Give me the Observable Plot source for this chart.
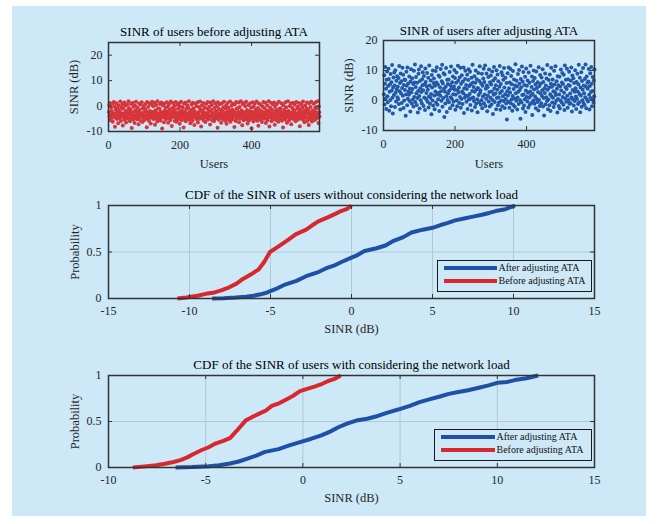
<!DOCTYPE html>
<html><head><meta charset="utf-8">
<script src="https://cdn.jsdelivr.net/npm/d3@7"></script>
<script src="https://cdn.jsdelivr.net/npm/@observablehq/plot@0.6"></script>
<style>
body{margin:0;background:#fff;}
#page{position:relative;width:658px;height:524px;overflow:hidden;font-family:"Liberation Serif","Times New Roman",serif;}
#bg{position:absolute;left:12px;top:6px;width:634px;height:510px;background:#cde8f7;}
.panel{position:absolute;left:0;}
.legend{position:absolute;box-sizing:border-box;border:1.5px solid #1a1a1a;background:#cde8f7;}
.legend .sw{position:absolute;height:4px;}
.legend .lt{position:absolute;font-size:10px;line-height:12px;color:#111;white-space:nowrap;}
</style></head>
<body><div id="page"><div id="bg"></div></div>
<script>
// ---------- data ----------
const users = d3.range(1, 591);
const sinrBefore = [
-2.3,0.4,-4.1,1.2,-5.6,-3.3,-0.7,-4.8,-1.9,-3.7,
0.9,-6.2,-2.8,-4.4,1.6,-3.1,-0.2,-8.1,-4.6,-1.4,
-3.9,1.1,-2.5,-5.1,-0.9,-4.2,-6.8,0.3,-3.4,-1.7,
-4.7,-2.2,1.8,-3.6,-5.9,-0.5,-4.0,-2.9,0.7,-7.6,
-1.1,-4.5,-3.0,1.4,-5.3,-2.6,0.1,-3.8,-6.5,-1.8,
-4.3,0.6,-2.4,-5.0,-3.5,1.9,-0.8,-4.9,-2.0,-6.0,
-3.2,-1.3,0.8,-4.6,-8.6,-2.7,-3.9,1.3,-5.4,-0.3,
-4.1,-2.1,-6.7,0.2,-3.6,-1.6,1.7,-4.8,-3.0,-5.2,
-0.6,-3.4,-2.3,-7.1,-4.4,1.0,-1.5,-3.8,-5.7,0.5,
-2.8,-4.0,1.5,-3.3,-6.3,-1.0,-4.7,-2.5,0.0,-3.9,
-5.5,-1.2,-3.7,0.9,-4.2,-2.0,-8.3,1.6,-3.1,-4.9,
-0.4,-2.7,-5.8,-3.5,1.1,-1.9,-4.4,-6.9,0.6,-3.0,
-4.6,1.7,-2.3,-3.8,-0.1,-5.1,-2.9,-4.0,1.3,-7.3,
-1.6,-3.4,0.4,-4.8,-2.5,-6.1,1.9,-3.6,-0.9,-5.0,
-3.1,-4.3,-1.1,0.8,-5.7,-2.2,-3.9,1.4,-4.5,-8.8,
-2.6,0.2,-4.1,-3.3,-6.4,1.0,-1.7,-4.7,-2.8,-0.6,
-5.2,-3.6,1.5,-2.1,-4.0,-0.3,-6.6,-3.0,0.7,-4.9,
-1.4,-3.8,-5.5,1.8,-2.4,-4.4,-7.8,-0.8,-3.2,1.2,
-4.2,-2.0,-3.5,0.0,-5.9,-1.5,-4.6,1.6,-2.9,-6.2,
-3.7,0.5,-4.8,-2.6,-1.0,-5.3,1.1,-3.4,-7.0,-0.2,
-2.1,-4.3,1.7,-3.0,-5.6,-1.8,-0.5,-4.1,-2.7,-8.4,
0.9,-3.6,-4.9,-2.3,1.4,-6.0,-1.2,-3.9,-5.1,0.3,
-2.9,-4.5,-0.7,-3.2,1.9,-5.4,-2.2,-4.0,-6.8,-1.6,
-3.5,0.6,-4.7,-2.5,-5.8,1.3,-0.9,-3.1,-4.3,-7.4,
-1.9,-3.7,1.0,-4.6,-2.8,-0.1,-5.2,-3.3,1.5,-6.5,
-4.0,-2.4,-0.4,-3.8,-5.0,1.8,-1.3,-4.4,-8.0,-2.0,
0.2,-3.4,-4.8,-1.7,1.2,-5.7,-2.6,-3.9,-0.6,-4.2,
-6.3,-2.9,0.8,-4.5,-3.2,-1.1,1.6,-5.3,-2.3,-3.6,
-4.9,-0.3,-2.0,-7.2,1.4,-3.8,-4.1,-1.5,0.4,-5.6,
-3.0,-2.7,1.9,-4.4,-6.0,-0.8,-3.5,-5.0,1.0,-1.9,
-4.6,-3.1,-0.2,-2.4,-8.5,1.5,-3.7,-5.4,-1.2,-4.0,
0.7,-2.8,-4.3,-3.3,-6.6,-1.6,1.1,-5.1,-2.1,-3.9,
-0.5,-4.7,1.7,-2.6,-3.4,-5.8,-1.0,-4.2,0.3,-7.0,
-3.6,-2.2,-4.9,1.3,-0.7,-5.5,-3.0,-1.8,-4.4,1.8,
-6.2,-2.5,-3.8,0.1,-4.6,-1.4,-5.2,1.0,-3.2,-2.0,
-4.1,-8.2,0.6,-3.5,-2.7,-5.9,1.6,-1.1,-4.8,-3.3,
-0.9,-4.3,-2.3,1.4,-6.4,-3.7,-0.4,-5.0,-2.9,1.9,
-4.5,-1.7,-3.1,-7.5,0.8,-2.1,-4.0,-5.6,1.2,-3.6,
-2.6,-0.1,-4.7,-3.9,1.7,-5.3,-1.5,-2.4,-6.9,-4.2,
0.4,-3.0,-5.7,-1.9,-4.4,1.1,-2.8,-3.5,-0.6,-8.7,
-4.9,-2.2,1.5,-3.8,-6.1,-0.3,-4.1,-2.5,0.9,-5.1,
-3.3,-1.3,-4.6,1.8,-2.0,-5.8,-3.6,-0.8,-7.7,-4.3,
1.0,-2.7,-3.9,-5.4,-1.6,0.5,-4.8,-3.1,-6.3,-2.3,
-0.2,-4.0,1.6,-3.4,-5.0,-2.6,-1.0,-4.5,1.3,-6.7,
-3.7,-2.1,-4.9,0.2,-5.6,-1.8,-3.0,1.9,-4.2,-8.0,
-2.4,-0.7,-4.4,-3.2,1.2,-6.0,-1.4,-5.2,-2.9,0.6,
-4.7,-3.5,1.4,-2.2,-7.3,-0.4,-3.8,-5.5,-1.7,-4.0,
0.8,-2.5,-4.6,-3.3,-6.2,1.7,-1.2,-3.9,-5.0,-2.0,
-0.9,-4.3,-3.0,1.1,-5.8,-2.7,-4.1,-8.4,0.3,-3.6,
-1.5,-4.8,-2.3,-5.3,1.5,-3.4,-0.5,-4.4,-6.6,-2.1,
-3.1,1.9,-4.2,-1.9,-5.7,-2.8,0.0,-3.7,-4.9,1.0,
-7.1,-2.6,-3.3,-0.8,-4.5,1.3,-5.1,-1.6,-3.9,-2.2,
0.5,-4.7,-6.0,-2.9,1.6,-3.5,-1.1,-4.3,-5.4,-0.3,
-3.8,-2.4,1.2,-4.6,-7.9,-1.4,-3.1,-5.0,0.7,-2.7,
-4.1,-0.6,-3.6,1.8,-5.5,-2.0,-4.8,-6.4,-1.8,0.2,
-3.2,-4.4,-2.5,-0.9,1.4,-5.9,-3.0,-1.3,-4.7,-7.4,
1.1,-2.3,-3.7,-5.2,-0.4,-4.0,1.7,-2.8,-6.1,-3.4,
-1.7,-4.9,-3.1,0.9,-5.6,-2.1,-4.2,-0.7,1.5,-3.9,
-5.0,-2.6,-1.0,-4.5,1.9,-3.3,-6.7,-0.2,-2.4,-4.1];
const sinrAfter = [
2.1,8.4,-1.3,5.6,11.2,0.7,3.9,-2.8,6.9,9.7,
1.4,-0.6,4.8,10.6,7.2,-3.4,2.9,5.3,0.2,8.8,
-1.9,6.1,3.3,11.8,0.9,-4.3,4.4,7.7,1.8,9.3,
5.0,-2.2,10.1,2.6,-0.3,6.6,3.7,8.1,1.1,4.6,
0.4,7.5,-1.2,11.5,3.1,5.8,-3.0,9.0,2.3,6.4,
-0.8,4.2,10.9,1.6,8.6,-2.5,5.2,0.0,7.0,3.5,
6.8,-5.1,2.0,9.6,4.9,-1.6,11.0,0.6,5.7,3.0,
1.9,8.0,-0.2,4.0,-3.7,6.3,10.4,2.7,-1.0,7.4,
3.8,0.3,5.5,-2.0,9.9,1.2,6.0,12.0,-0.5,4.5,
7.8,2.4,-1.5,5.9,0.8,-4.0,3.2,8.9,10.3,1.5,
-2.7,6.5,4.1,0.1,11.4,2.8,-0.9,7.1,5.1,9.4,
3.4,-1.8,8.2,1.0,5.4,-3.2,10.7,6.2,0.5,2.5,
4.7,9.2,-0.4,3.6,7.6,-2.3,1.3,11.7,5.0,-1.1,
0.9,6.7,2.2,-4.6,8.5,4.3,0.0,10.0,-1.7,5.8,
7.3,1.7,-2.9,4.9,3.0,9.8,-0.7,6.0,11.1,2.0,
-1.4,5.3,0.4,8.3,2.6,-3.5,7.9,4.4,1.6,10.5,
3.1,-0.1,6.4,11.9,-2.1,5.7,0.8,9.1,3.9,-5.5,
8.7,2.9,-1.0,4.6,10.8,1.4,-3.8,6.9,0.2,5.5,
2.4,7.0,-0.6,3.3,9.5,-2.6,5.1,1.1,11.3,4.0,
0.6,6.1,-1.6,8.0,2.1,-0.3,4.7,10.2,3.6,7.5,
-3.1,1.9,5.9,9.3,0.0,-1.9,3.5,11.6,6.6,2.7,
4.3,-0.8,7.7,1.2,10.9,-2.4,5.6,0.5,8.4,3.0,
-1.2,6.3,2.4,11.0,-4.2,4.1,0.9,7.2,9.9,1.7,
5.2,-0.4,3.8,8.6,-2.8,1.5,6.8,10.4,0.3,4.8,
2.2,9.6,-1.5,5.4,0.7,7.6,-3.3,3.2,11.9,6.0,
1.0,4.5,-0.2,8.1,2.9,-2.2,5.9,10.0,-1.1,3.7,
7.1,0.4,-3.9,4.2,9.2,1.8,-0.6,6.5,11.4,2.6,
3.4,-1.4,5.7,0.1,8.9,-2.6,4.9,1.3,7.3,10.6,
-0.9,6.2,2.0,11.7,-1.8,3.9,0.6,9.0,5.0,-3.6,
4.4,1.6,7.8,-0.3,10.3,2.8,-2.0,6.1,0.9,8.3,
5.3,-1.3,3.0,9.7,0.2,-4.5,6.7,1.9,11.2,4.0,
-0.5,7.4,2.3,5.1,-2.9,10.1,0.8,3.6,8.7,-1.6,
6.4,1.1,-0.7,4.6,11.5,2.5,-3.1,5.5,0.0,9.4,
3.2,-1.9,8.4,1.4,6.9,-0.2,10.8,4.3,-2.5,2.1,
7.6,0.5,-1.0,5.8,-6.3,3.1,9.1,1.7,-0.4,11.0,
4.1,-2.4,6.0,2.7,10.5,-0.9,8.2,0.3,5.4,-3.4,
1.5,9.8,-1.5,3.8,7.0,0.7,-2.1,5.0,12.1,2.4,
-0.1,6.6,4.7,-3.0,1.0,8.8,2.9,-1.2,10.2,5.6,
3.5,0.1,-6.1,7.2,4.4,-0.6,11.3,1.8,6.3,-2.7,
9.5,2.0,-1.7,5.2,0.4,7.9,-3.8,3.3,10.7,1.2,
4.9,-0.3,6.7,2.6,-2.3,9.3,0.9,5.9,-1.4,3.0,
11.6,1.6,-0.8,4.5,8.0,-4.8,2.2,6.5,0.0,10.0,
3.7,-1.1,7.5,1.3,5.3,-2.6,9.7,0.6,4.2,-0.5,
6.1,2.8,-3.3,11.1,0.2,4.8,-1.8,8.5,2.3,5.7,
-0.9,7.7,1.5,3.4,10.4,-2.0,6.2,0.8,-5.0,4.0,
2.5,9.0,-1.3,5.0,1.1,7.3,-0.2,11.8,3.6,-2.9,
0.3,6.8,4.3,-1.6,8.7,2.1,-3.5,5.6,10.9,1.4,
4.6,-0.7,7.0,0.9,3.1,-2.2,9.9,5.3,-1.0,2.7,
11.4,1.8,-0.1,6.4,3.9,-4.0,8.1,0.5,5.1,-1.8,
2.0,7.9,-2.7,4.7,0.0,10.3,3.3,-0.6,6.0,9.2,
1.2,5.5,-1.4,8.6,2.6,-3.2,11.7,0.7,4.4,6.9,
-0.4,3.8,10.6,1.6,-2.4,7.1,5.2,0.2,9.6,-1.1,
4.9,2.3,-0.9,6.6,11.0,1.0,-3.7,8.3,3.5,0.4,
7.4,-1.7,5.8,2.9,-0.2,10.1,4.1,1.3,-2.8,6.2,
0.6,8.9,3.0,-1.2,5.4,11.9,-0.6,2.2,7.6,-3.9,
4.3,1.7,9.4,-2.1,6.5,0.1,3.6,10.8,-0.8,5.0,
2.4,-1.5,7.2,1.1,12.0,4.6,-2.6,8.0,0.3,5.9,
3.9,-0.3,6.3,10.5,1.9,-3.0,4.8,9.1,0.8,2.8,
11.2,5.6,-1.9,3.2,7.8,0.5,-0.7,6.7,1.4,10.3];

// CDF without considering the network load
const cdf1BeforeX = [-10.75,-10.2,-9.5,-9.0,-8.45,-8.0,-7.55,-7.1,-6.7,-6.2,-5.75,-5.4,-5.03,-4.5,-4.0,-3.45,-2.8,-2.4,-2.05,-1.5,-1.0,-0.65,-0.3,0.0];
const cdf1BeforeP = [0,0.01,0.03,0.05,0.065,0.09,0.12,0.16,0.21,0.26,0.31,0.39,0.5,0.56,0.62,0.69,0.74,0.79,0.83,0.87,0.91,0.94,0.96,1.0];
const cdf1AfterX = [-8.6,-7.9,-7.15,-6.5,-6.05,-5.6,-5.2,-4.7,-4.1,-3.4,-2.8,-2.1,-1.5,-1.0,-0.65,0.0,0.4,0.8,1.55,2.1,2.6,3.2,3.7,4.4,5.0,5.5,5.9,6.4,6.95,7.5,8.05,8.5,8.9,9.5,10.1];
const cdf1AfterP = [0,0.003,0.01,0.02,0.03,0.045,0.065,0.1,0.15,0.19,0.24,0.28,0.33,0.36,0.39,0.44,0.47,0.51,0.54,0.57,0.62,0.66,0.71,0.74,0.76,0.79,0.81,0.84,0.86,0.88,0.9,0.92,0.94,0.96,1.0];
// CDF with considering the network load
const cdf2BeforeX = [-8.75,-8.0,-7.55,-7.1,-6.65,-6.3,-5.95,-5.6,-5.2,-4.85,-4.5,-4.1,-3.75,-3.4,-2.95,-2.6,-2.3,-1.9,-1.6,-1.2,-0.85,-0.5,-0.15,0.3,0.6,1.0,1.3,1.6,1.95];
const cdf2BeforeP = [0,0.015,0.025,0.04,0.06,0.08,0.11,0.15,0.19,0.22,0.26,0.29,0.32,0.4,0.51,0.55,0.58,0.62,0.67,0.7,0.74,0.78,0.83,0.86,0.88,0.91,0.94,0.96,1.0];
const cdf2AfterX = [-6.55,-5.7,-4.85,-4.3,-3.75,-3.3,-2.85,-2.4,-1.95,-1.25,-0.7,-0.15,0.4,0.95,1.4,1.85,2.3,2.75,3.3,3.85,4.4,4.9,5.5,6.0,6.5,7.1,7.5,8.0,8.5,9.1,9.5,10.0,10.5,10.9,11.5,12.1];
const cdf2AfterP = [0,0.005,0.014,0.025,0.043,0.065,0.096,0.13,0.17,0.2,0.24,0.275,0.31,0.35,0.39,0.44,0.48,0.51,0.53,0.56,0.6,0.63,0.67,0.71,0.74,0.775,0.8,0.82,0.84,0.87,0.89,0.92,0.93,0.95,0.97,1.0];

const usersTicks = [0,200,400];
const sinrTicksBefore = [-10,0,10,20];
const sinrTicksAfter = [-10,0,10,20];
const cdf1Ticks = [-15,-10,-5,0,5,10,15];
const cdf2Ticks = [-10,-5,0,5,10,15];
const probTicks = [0,0.5,1];

const seriesNames = ["After adjusting ATA","Before adjusting ATA"];
const seriesColors = ["#1f50a6","#d8282e"];

// ---------- drawing ----------
const FONT = '"Liberation Serif","Times New Roman",serif';
const FRAME = "#333333";
const GRID = "#b0c8d6";
const TXT = "#262626";
const W = 658;
const page = document.getElementById("page");

function panel(cfg){
  const {top, height, fl, fr, ft, fb, xdomain, ydomain, xticks, yticks, title, xlabel, ylabel, grid, marks, xPad, yPad} = cfg;
  const fw = fr - fl, fh = fb - ft;
  const all = [];
  if (grid) {
    all.push(Plot.ruleX(xticks, {x: d => d, stroke: GRID, strokeWidth: 1}));
    all.push(Plot.ruleY(yticks, {y: d => d, stroke: GRID, strokeWidth: 1}));
  }
  all.push(...marks);
  all.push(Plot.tickX(xticks, {x: d => d, insetTop: fh - 4, stroke: FRAME}));
  all.push(Plot.tickX(xticks, {x: d => d, insetBottom: fh - 4, stroke: FRAME}));
  all.push(Plot.tickY(yticks, {y: d => d, insetRight: fw - 4, stroke: FRAME}));
  all.push(Plot.tickY(yticks, {y: d => d, insetLeft: fw - 4, stroke: FRAME}));
  all.push(Plot.frame({stroke: FRAME, strokeWidth: 1.5}));
  all.push(Plot.axisX(xticks, {anchor: "bottom", tickSize: 0, tickPadding: xPad, tickFormat: d => String(d), fill: TXT, fontSize: 12, label: null}));
  all.push(Plot.axisY(yticks, {anchor: "left", tickSize: 0, tickPadding: yPad, tickFormat: d => String(d), fill: TXT, fontSize: 12, label: null}));
  all.push(Plot.text([title], {frameAnchor: "top", lineAnchor: "middle", textAnchor: "middle", dy: cfg.tDy, text: d => d, fontSize: 13, fill: "#000"}));
  all.push(Plot.text([xlabel], {frameAnchor: "bottom", lineAnchor: "middle", textAnchor: "middle", dy: cfg.xlDy, text: d => d, fontSize: 12.5, fill: TXT}));
  all.push(Plot.text([ylabel], {frameAnchor: "left", lineAnchor: "middle", textAnchor: "middle", dx: cfg.ylDx, rotate: -90, text: d => d, fontSize: 12.5, fill: TXT}));
  const svg = Plot.plot({
    width: W, height,
    marginLeft: fl, marginRight: W - fr, marginTop: ft - top, marginBottom: top + height - fb,
    x: {domain: xdomain, axis: null},
    y: {domain: ydomain, axis: null},
    style: {fontFamily: FONT, fontSize: "12px", background: "transparent", overflow: "visible", color: TXT},
    marks: all
  });
  svg.classList.add("panel");
  svg.style.top = top + "px";
  page.appendChild(svg);
}

const beforeData = users.map((u, i) => ({u, v: sinrBefore[i]}));
const afterData = users.map((u, i) => ({u, v: sinrAfter[i]}));

panel({top: 0, height: 180, fl: 108, fr: 319, ft: 42, fb: 131,
  xdomain: [0, 590], ydomain: [-10, 25], xticks: usersTicks, yticks: sinrTicksBefore,
  title: "SINR of users before adjusting ATA", xlabel: "Users", ylabel: "SINR (dB)",
  xPad: 9, yPad: 6, tDy: -11, xlDy: 32, ylDx: -35,
  marks: [Plot.dot(beforeData, {x: "u", y: "v", r: 2.0, fill: "#d7353b", stroke: null})]});

panel({top: 0, height: 180, fl: 383, fr: 594, ft: 40, fb: 130,
  xdomain: [0, 590], ydomain: [-10, 20], xticks: usersTicks, yticks: sinrTicksAfter,
  title: "SINR of users after adjusting ATA", xlabel: "Users", ylabel: "SINR (dB)",
  xPad: 9, yPad: 6, tDy: -10, xlDy: 33, ylDx: -35,
  marks: [Plot.dot(afterData, {x: "u", y: "v", r: 2.0, fill: "#2158a8", stroke: null})]});

function cdfMarks(ax, ap, bx, bp){
  const a = ax.map((x, i) => ({x, p: ap[i]}));
  const b = bx.map((x, i) => ({x, p: bp[i]}));
  return [
    Plot.line(a, {x: "x", y: "p", stroke: seriesColors[0], strokeWidth: 4, strokeLinecap: "butt"}),
    Plot.line(b, {x: "x", y: "p", stroke: seriesColors[1], strokeWidth: 4, strokeLinecap: "butt"})
  ];
}

panel({top: 180, height: 170, fl: 108, fr: 594, ft: 205, fb: 298,
  xdomain: [-15, 15], ydomain: [0, 1], xticks: cdf1Ticks, yticks: probTicks, grid: true,
  title: "CDF of the SINR of users without considering the network load", xlabel: "SINR (dB)", ylabel: "Probability",
  xPad: 8, yPad: 7, tDy: -11, xlDy: 30, ylDx: -34,
  marks: cdfMarks(cdf1AfterX, cdf1AfterP, cdf1BeforeX, cdf1BeforeP)});

panel({top: 350, height: 170, fl: 108, fr: 594, ft: 375, fb: 467,
  xdomain: [-10, 15], ydomain: [0, 1], xticks: cdf2Ticks, yticks: probTicks, grid: true,
  title: "CDF of the SINR of users with considering the network load", xlabel: "SINR (dB)", ylabel: "Probability",
  xPad: 8, yPad: 7, tDy: -11, xlDy: 30, ylDx: -34,
  marks: cdfMarks(cdf2AfterX, cdf2AfterP, cdf2BeforeX, cdf2BeforeP)});

function legend(left, top, width, height, lineX, lineW, y1, y2){
  const box = document.createElement("div");
  box.className = "legend";
  Object.assign(box.style, {left: left + "px", top: top + "px", width: width + "px", height: height + "px"});
  [y1, y2].forEach((y, i) => {
    const sw = document.createElement("div");
    sw.className = "sw";
    Object.assign(sw.style, {left: (lineX - left - 1.5) + "px", width: lineW + "px", top: (y - top - 1.5 - 2) + "px", background: seriesColors[i]});
    const t = document.createElement("div");
    t.className = "lt";
    t.textContent = seriesNames[i];
    Object.assign(t.style, {left: (lineX + lineW + 2 - left - 1.5) + "px", top: (y - top - 1.5 - 6) + "px"});
    box.appendChild(sw); box.appendChild(t);
  });
  page.appendChild(box);
}
legend(437, 260, 155, 32, 444, 53, 268.5, 281.5);
legend(434, 429, 158, 32, 441, 54, 437.5, 450.5);
</script>
</body></html>
